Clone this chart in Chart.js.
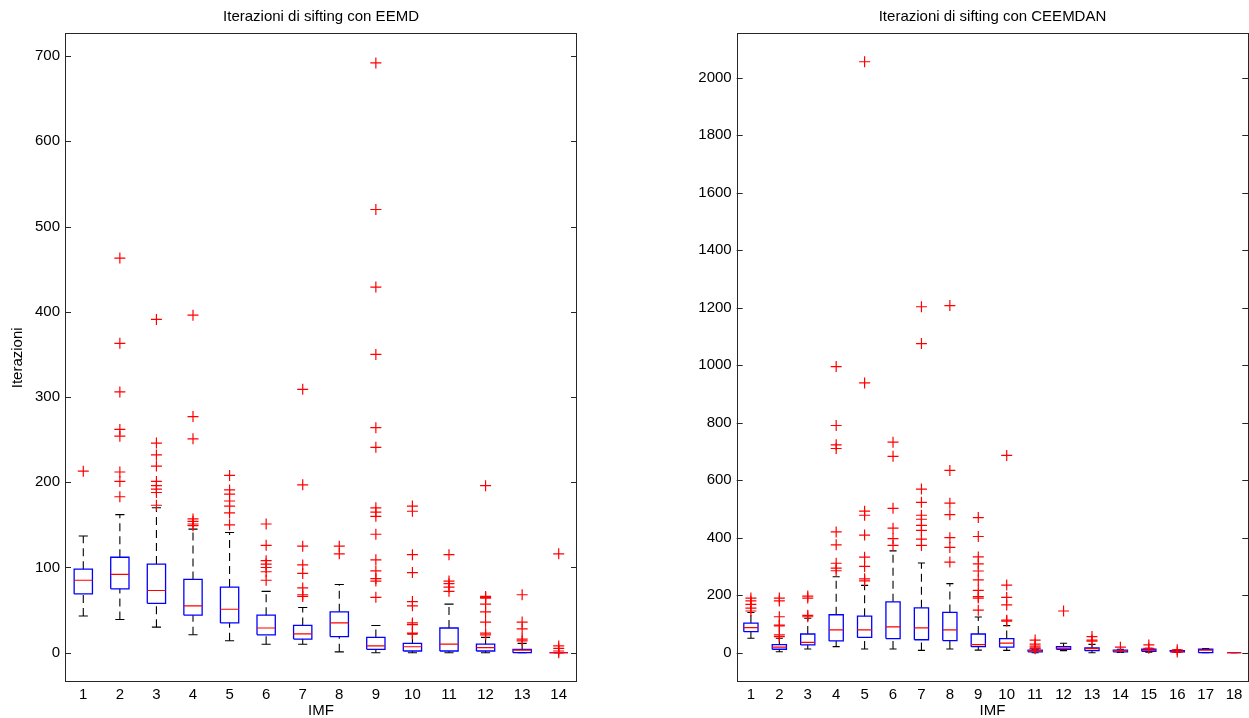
<!DOCTYPE html>
<html><head><meta charset="utf-8">
<script src="https://cdn.jsdelivr.net/npm/chart.js@4.4.1/dist/chart.umd.min.js"></script>
<style>
html,body{margin:0;padding:0;background:#fff;overflow:hidden;width:1249px;height:718px;position:relative}
canvas{position:absolute;top:0}
#c1{left:0}
#c2{left:672px}
</style></head>
<body>
<canvas id="c1" width="642" height="724"></canvas>
<canvas id="c2" width="641" height="724"></canvas>
<script>
const FONT = "'Liberation Sans', Arial, Helvetica, sans-serif";

// ---------- EEMD panel ----------
const eemdTitle = "Iterazioni di sifting con EEMD";
const eemdCats = [1,2,3,4,5,6,7,8,9,10,11,12,13,14];
const eemdYTicks = [0,100,200,300,400,500,600,700];
const eemdLo  = [43, 39, 30, 21, 14, 10, 10,  1,  0,  0,  0,  0,  0, 0];
const eemdQ1  = [69, 75, 58, 44, 35, 21, 16, 19,  4,  2,  2,  2,  0, 0];
const eemdMed = [85, 92, 73, 55, 51, 29, 22, 35,  8,  7, 10,  6,  3, 0];
const eemdQ3  = [98,112,104, 86, 77, 44, 32, 48, 18, 11, 29, 10,  4, 0];
const eemdHi  = [137,162,170,145,141,72, 53, 80, 32, 22, 57, 18, 11, 0];
const eemdOut = [
  [213],
  [463, 363, 306, 262, 254, 212, 201, 183],
  [391, 246, 232, 219, 201, 196, 192, 188, 173],
  [396, 277, 251, 157, 154, 151, 149],
  [208, 191, 186, 178, 172, 164, 150],
  [151, 126, 108, 104, 100, 95, 85],
  [309, 197, 125, 103, 93, 76, 68, 66],
  [125, 116],
  [692, 520, 429, 350, 264, 241, 170, 165, 160, 139, 109, 96, 87, 84, 65],
  [172, 166, 115, 94, 60, 55, 35, 33, 23, 22],
  [115, 84, 81, 77, 72],
  [196, 66, 65, 64, 57, 48, 36, 23, 21],
  [68, 36, 28, 16, 14],
  [116, 8, 5, 2, 0]
];

// ---------- CEEMDAN panel ----------
const ceemTitle = "Iterazioni di sifting con CEEMDAN";
const ceemCats = [1,2,3,4,5,6,7,8,9,10,11,12,13,14,15,16,17,18];
const ceemYTicks = [0,200,400,600,800,1000,1200,1400,1600,1800,2000];
const ceemLo  = [50,  3, 13, 21, 13, 13,  8, 13,  9,  8,  0,  7,  0,  1,  2,  1,  0, 0];
const ceemQ1  = [73, 12, 27, 41, 53, 49, 45, 42, 21, 19,  3, 12,  7,  3,  5,  3,  0, 0];
const ceemMed = [87, 19, 36, 79, 79, 90, 86, 79, 28, 33,  7, 16, 14,  7,  9,  5,  9, 0];
const ceemQ3  = [103,28, 65,132,127,177,156,140, 65, 49,  9, 21, 17,  9, 12,  7, 12, 0];
const ceemHi  = [140,50,120,264,234,354,312,240,124, 94, 12, 33, 29, 12, 15, 10, 14, 0];
const ceemOut = [
  [190, 180, 168, 155, 145],
  [190, 180, 125, 96, 93, 62, 56],
  [197, 190, 130, 125],
  [995, 790, 723, 710, 420, 375, 311, 294, 285],
  [2055, 938, 492, 478, 409, 332, 300, 257, 250],
  [732, 683, 502, 433, 397, 373],
  [1203, 1075, 569, 523, 478, 464, 443, 425, 395, 373],
  [1207, 634, 520, 480, 400, 366, 315],
  [470, 404, 333, 309, 284, 253, 217, 195, 190, 148],
  [686, 235, 192, 166, 113, 110],
  [44, 30, 23, 17, 14],
  [145],
  [56, 44, 40],
  [19],
  [27, 15],
  [10, 2],
  [],
  []
];

function buildDatasets(cats, lo, q1, med, q3, hi, outl) {
  const box = [], medL = [], wh = [], caps = [], out = [];
  const hw = 0.25, cw = 0.125;
  cats.forEach((c, i) => {
    box.push({x:c-hw,y:q1[i]},{x:c+hw,y:q1[i]},{x:c+hw,y:q3[i]},{x:c-hw,y:q3[i]},{x:c-hw,y:q1[i]},{x:c,y:null});
    medL.push({x:c-hw,y:med[i]},{x:c+hw,y:med[i]},{x:c,y:null});
    wh.push({x:c,y:q3[i]},{x:c,y:hi[i]},{x:c,y:null},{x:c,y:lo[i]},{x:c,y:q1[i]},{x:c,y:null});
    caps.push({x:c-cw,y:hi[i]},{x:c+cw,y:hi[i]},{x:c,y:null},{x:c-cw,y:lo[i]},{x:c+cw,y:lo[i]},{x:c,y:null});
    outl[i].forEach(v => out.push({x:c,y:v}));
  });
  const line = {showLine:true, pointRadius:0, pointHoverRadius:0, spanGaps:false, fill:false, tension:0};
  return [
    {label:'Outlier', data:out, showLine:false, pointStyle:'cross', pointRadius:5.5, pointHoverRadius:5.5,
     borderColor:'#ff0000', backgroundColor:'#ff0000', pointBorderWidth:1.2},
    Object.assign({label:'Mediana', data:medL, borderColor:'#ff0000', borderWidth:1.2}, line),
    Object.assign({label:'Box', data:box, borderColor:'#0000ff', borderWidth:1.3}, line),
    Object.assign({label:'Estremi', data:caps, borderColor:'#000000', borderWidth:1.1}, line),
    Object.assign({label:'Baffi', data:wh, borderColor:'#000000', borderWidth:1.1, borderDash:[8,5]}, line)
  ];
}

const framePlugin = {
  id: 'frame',
  afterDatasetsDraw(chart) {
    const {ctx, chartArea: a} = chart;
    const y = chart.scales.y;
    ctx.save();
    ctx.strokeStyle = '#262626';
    ctx.lineWidth = 1;
    ctx.beginPath();
    y.ticks.forEach(t => {
      const py = Math.round(y.getPixelForValue(t.value)) + 0.5;
      ctx.moveTo(a.left, py); ctx.lineTo(a.left + 6, py);
      ctx.moveTo(a.right, py); ctx.lineTo(a.right - 6, py);
    });
    ctx.stroke();
    ctx.strokeRect(Math.round(a.left) + 0.5, Math.round(a.top) + 0.5,
                   Math.round(a.right - a.left) - 1, Math.round(a.bottom - a.top) - 1);
    ctx.restore();
  }
};

function makeChart(id, title, cats, yTicks, yMin, yMax, yTitle, leftW, rightW, data) {
  const font = {family: FONT, size: 15, weight: 'normal'};
  return new Chart(document.getElementById(id), {
    type: 'scatter',
    data: {datasets: data},
    plugins: [framePlugin],
    options: {
      responsive: false,
      animation: false,
      layout: {padding: 0},
      plugins: {
        legend: {display: false},
        tooltip: {enabled: false},
        title: {display: true, text: title, color: '#000', font: font, padding: {top: 8, bottom: 7.3}}
      },
      scales: {
        x: {
          type: 'linear', min: 0.5, max: cats.length + 0.5,
          grid: {display: false, drawTicks: false},
          border: {display: false},
          afterBuildTicks: s => { s.ticks = cats.map(v => ({value: v})); },
          afterFit: s => { s.height = 41.7; },
          ticks: {color: '#000', font: font, padding: 4, maxRotation: 0, autoSkip: false, callback: v => String(v)},
          title: {display: true, text: 'IMF', color: '#000', font: font, padding: {top: 0, bottom: 4}}
        },
        y: {
          type: 'linear', position: 'left', min: yMin, max: yMax,
          grid: {display: false, drawTicks: false},
          border: {display: false},
          afterBuildTicks: s => { s.ticks = yTicks.map(v => ({value: v})); },
          afterFit: s => { s.width = leftW; },
          ticks: {color: '#000', font: font, padding: 5, autoSkip: false, callback: v => String(v)},
          title: {display: !!yTitle, text: yTitle || '', color: '#000', font: font, padding: {top: 9, bottom: 0}}
        },
        yr: {
          type: 'linear', position: 'right', min: yMin, max: yMax, display: true,
          grid: {display: false, drawTicks: false},
          border: {display: false},
          ticks: {display: false},
          afterFit: s => { s.width = rightW; }
        }
      }
    }
  });
}

makeChart('c1', eemdTitle, eemdCats, eemdYTicks, -34.7, 726.7, 'Iterazioni', 65, 65,
  buildDatasets(eemdCats, eemdLo, eemdQ1, eemdMed, eemdQ3, eemdHi, eemdOut));
makeChart('c2', ceemTitle, ceemCats, ceemYTicks, -103, 2154, '', 64.7, 64.7,
  buildDatasets(ceemCats, ceemLo, ceemQ1, ceemMed, ceemQ3, ceemHi, ceemOut));
</script>
</body></html>
